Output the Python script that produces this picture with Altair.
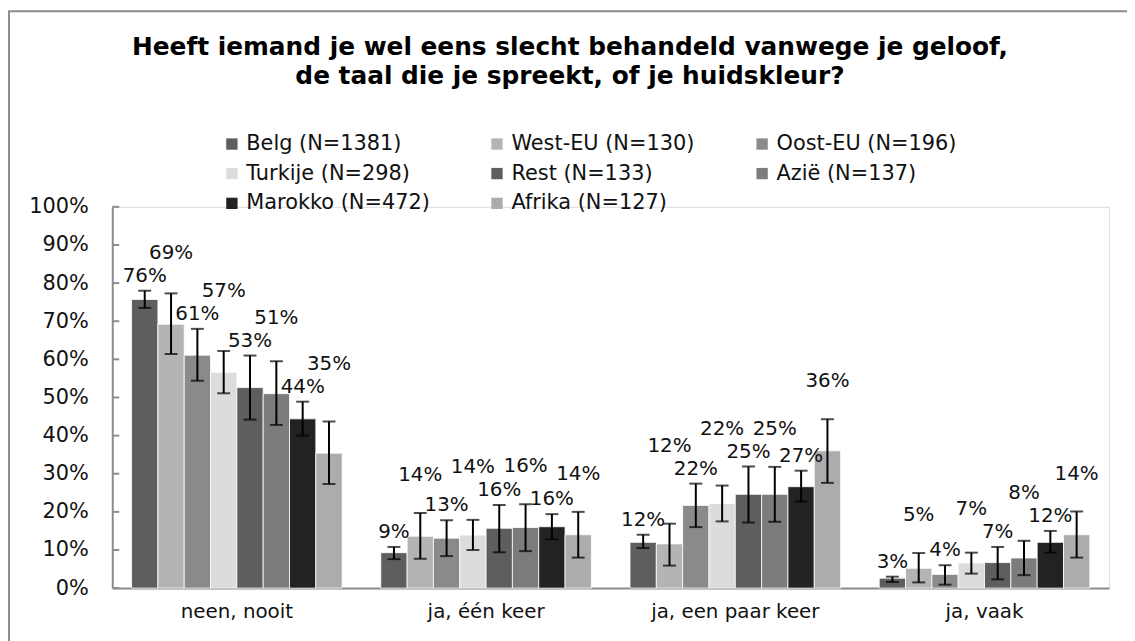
import altair as alt
import pandas as pd

categories = ["neen, nooit", "ja, één keer", "ja, een paar keer", "ja, vaak"]
series = ["Belg (N=1381)", "West-EU (N=130)", "Oost-EU (N=196)", "Turkije (N=298)",
          "Rest (N=133)", "Azië (N=137)", "Marokko (N=472)", "Afrika (N=127)"]
colors = ["#5e5e5e", "#b4b4b4", "#8a8a8a", "#dcdcdc", "#5e5e5e", "#7c7c7c", "#222222", "#acacac"]

# bar values (%) per series, in category order
belg = [75.7, 9.3, 12.0, 2.6]
west_eu = [69.2, 13.6, 11.6, 5.2]
oost_eu = [61.1, 13.1, 21.7, 3.6]
turkije = [56.6, 13.9, 22.2, 6.6]
rest = [52.6, 15.7, 24.6, 6.7]
azie = [51.0, 15.9, 24.6, 7.9]
marokko = [44.4, 16.1, 26.6, 12.0]
afrika = [35.4, 14.0, 36.0, 14.0]

# error bar lower / upper ends (%)
belg_lo = [73.5, 7.6, 10.5, 1.6]
belg_hi = [78.0, 10.8, 14.0, 3.0]
west_eu_lo = [61.4, 7.7, 5.9, 1.5]
west_eu_hi = [77.3, 19.7, 16.9, 9.2]
oost_eu_lo = [54.4, 8.4, 16.0, 0.9]
oost_eu_hi = [68.0, 17.8, 27.4, 6.0]
turkije_lo = [51.1, 10.0, 17.5, 3.8]
turkije_hi = [62.2, 17.9, 26.9, 9.3]
rest_lo = [44.2, 9.4, 17.2, 2.3]
rest_hi = [61.0, 21.8, 31.9, 10.8]
azie_lo = [42.8, 9.7, 17.4, 3.4]
azie_hi = [59.5, 22.0, 31.8, 12.4]
marokko_lo = [40.0, 12.8, 22.7, 9.3]
marokko_hi = [48.9, 19.4, 30.8, 15.0]
afrika_lo = [27.3, 8.0, 27.6, 8.0]
afrika_hi = [43.7, 20.0, 44.3, 20.1]

y_ticks = [0, 10, 20, 30, 40, 50, 60, 70, 80, 90, 100]

values = [belg, west_eu, oost_eu, turkije, rest, azie, marokko, afrika]
lows = [belg_lo, west_eu_lo, oost_eu_lo, turkije_lo, rest_lo, azie_lo, marokko_lo, afrika_lo]
highs = [belg_hi, west_eu_hi, oost_eu_hi, turkije_hi, rest_hi, azie_hi, marokko_hi, afrika_hi]

rows = []
for si, (s, vals, lo, hi) in enumerate(zip(series, values, lows, highs)):
    for ci, (c, v, l, h) in enumerate(zip(categories, vals, lo, hi)):
        # label anchor: odd series are lifted above their neighbours' labels
        if si % 2 == 1:
            nb = [highs[j][ci] for j in (si - 1, si, si + 1) if 0 <= j < len(series)]
            anchor = max(nb)
            lift = 1
        else:
            anchor = h
            lift = 0
        rows.append({"cat": c, "ser": s, "val": v, "lo": l, "hi": h,
                     "anchor": anchor, "lift": lift})
df = pd.DataFrame(rows)

W, H = 1004, 384
FONT = "DejaVu Sans"
GRAY = "#8c8c8c"

x_enc = alt.X("cat:N", sort=categories,
              scale=alt.Scale(paddingInner=0.155, paddingOuter=0.0775),
              axis=alt.Axis(title=None, labelAngle=0, ticks=False, labelPadding=14,
                            labelFontSize=20, labelFont=FONT, labelColor="#111111",
                            domainColor=GRAY, domainWidth=2))
xo_enc = alt.XOffset("ser:N", sort=series, scale=alt.Scale(paddingInner=0, paddingOuter=0))
y_scale = alt.Scale(domain=[0, 100], nice=False)
y_axis = alt.Axis(title=None, values=y_ticks, labelExpr="datum.value + '%'",
                  ticks=False, grid=False, labelPadding=24, labelFontSize=21,
                  labelFont=FONT, labelColor="#111111", labelOverlap=False,
                  domainColor=GRAY, domainWidth=2)

base = alt.Chart(df)

bars = base.mark_bar(stroke="white", strokeWidth=0.8).encode(
    x=x_enc, xOffset=xo_enc,
    y=alt.Y("val:Q", scale=y_scale, axis=y_axis),
    color=alt.Color("ser:N", sort=series, scale=alt.Scale(domain=series, range=colors),
                    legend=alt.Legend(title=None, orient="none", legendX=110, legendY=-74,
                                      direction="horizontal", columns=3,
                                      symbolType="square", symbolSize=130,
                                      symbolStrokeWidth=0, labelFontSize=21, labelFont=FONT,
                                      labelColor="#111111", labelOffset=4, labelLimit=300,
                                      columnPadding=57, rowPadding=8, gridAlign="all")),
)

err = base.mark_rule(color="black", strokeWidth=2).encode(
    x=x_enc, xOffset=xo_enc, y=alt.Y("lo:Q", scale=y_scale, axis=y_axis), y2="hi:Q")
cap_hi = base.mark_tick(color="black", thickness=2, size=13).encode(
    x=x_enc, xOffset=xo_enc, y=alt.Y("hi:Q", scale=y_scale, axis=y_axis))
cap_lo = base.mark_tick(color="black", thickness=2, size=13).encode(
    x=x_enc, xOffset=xo_enc, y=alt.Y("lo:Q", scale=y_scale, axis=y_axis))

lbl_base = base.transform_calculate(lbl="format(datum.val, '.0f') + '%'")
labels_low = lbl_base.transform_filter("datum.lift == 0").mark_text(
    baseline="bottom", dy=-5, fontSize=20, font=FONT, color="#111111").encode(
    x=x_enc, xOffset=xo_enc, y=alt.Y("anchor:Q", scale=y_scale, axis=y_axis), text="lbl:N")
labels_high = lbl_base.transform_filter("datum.lift == 1").mark_text(
    baseline="bottom", dy=-28, fontSize=20, font=FONT, color="#111111").encode(
    x=x_enc, xOffset=xo_enc, y=alt.Y("anchor:Q", scale=y_scale, axis=y_axis), text="lbl:N")

ticks = alt.Chart(pd.DataFrame({"t": y_ticks})).mark_rule(color=GRAY, strokeWidth=2).encode(
    y=alt.Y("t:Q", scale=y_scale, axis=y_axis), x=alt.value(0), x2=alt.value(7))

frame = alt.Chart(pd.DataFrame({"k": [0]})).mark_rect(
    fill=None, stroke=GRAY, strokeWidth=2).encode(
    x=alt.value(-104), x2=alt.value(W + 40), y=alt.value(-197), y2=alt.value(H + 80))

chart = alt.layer(frame, bars, err, cap_hi, cap_lo, labels_low, labels_high, ticks).properties(
    width=W, height=H,
    autosize=alt.AutoSizeParams(type="none"),
    padding={"left": 105, "top": 198, "right": 18, "bottom": 51},
    title=alt.TitleParams(
        text=["Heeft iemand je wel eens slecht behandeld vanwege je geloof,",
              "de taal die je spreekt, of je huidskleur?"],
        font=FONT, fontSize=25, fontWeight="bold", color="#000000",
        anchor="middle", frame="group", dx=-41, offset=-79, lineHeight=29),
).configure_view(stroke=None).configure_axisY(labelOverlap=False).configure(background="white")

chart.save("out.html", embed_options={"renderer": "svg", "actions": False})
